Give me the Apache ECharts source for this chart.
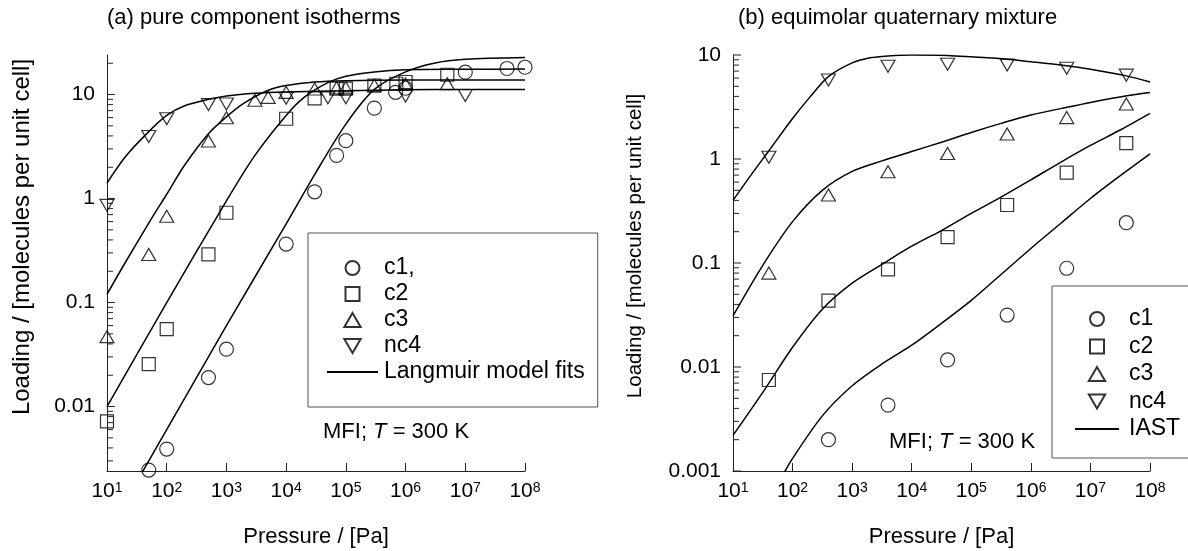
<!DOCTYPE html>
<html>
<head>
<meta charset="utf-8">
<title>MFI isotherms</title>
<script src="https://cdn.jsdelivr.net/npm/echarts@6/dist/echarts.min.js"></script>
<style>
html, body { margin: 0; padding: 0; background: #fff; }
#chart { width: 1188px; height: 551px; }
</style>
</head>
<body>
<div id="chart"></div>
<script>
/*
 * (a) pure component isotherms, (b) equimolar quaternary mixture
 * log-log, MFI at 300 K
 */

var FONT = '"Liberation Sans", Arial, sans-serif';
var INK = '#000';

// ---- (a) pure component : experimental points ----
var a_c1_P = [50, 100, 500, 1000, 1e4, 3e4, 7e4, 1e5, 3e5, 6.8e5, 1e6, 1e7, 5e7, 1e8];
var a_c1_q = [0.00245, 0.0039, 0.019, 0.0356, 0.365, 1.16, 2.6, 3.6, 7.4, 10.5, 11.5, 16.4, 17.8, 18.3];

var a_c2_P = [10, 50, 100, 500, 1000, 1e4, 3e4, 7e4, 1e5, 3e5, 7e5, 1e6, 5e6];
var a_c2_q = [0.0072, 0.0256, 0.0555, 0.29, 0.73, 5.85, 9.2, 11.4, 11.4, 12.2, 12.7, 13.2, 15.5];

var a_c3_P = [10, 50, 100, 500, 1000, 3000, 5000, 1e4, 3e4, 7e4, 1e5, 3e5, 1e6, 5e6];
var a_c3_q = [0.047, 0.29, 0.676, 3.57, 5.98, 8.8, 9.4, 10.5, 11.3, 11.6, 11.6, 12.3, 12.6, 12.7];

var a_nc4_P = [10, 50, 100, 500, 1000, 1e4, 5e4, 1e5, 1e6, 1e7];
var a_nc4_q = [0.86, 3.95, 5.85, 8.0, 8.1, 9.2, 9.3, 9.3, 9.7, 9.8];

// ---- (a) Langmuir model fits ----
var a_fit_c1_P = [30, 100, 1e3, 1e4, 3e4, 1e5, 3e5, 1e6, 3e6, 1e7, 1e8];
var a_fit_c1_q = [0.0018, 0.006, 0.06, 0.57, 1.7, 5.2, 11.2, 16.5, 20.0, 21.8, 22.7];

var a_fit_c2_P = [10, 100, 1e3, 3e3, 1e4, 2e4, 5e4, 1e5, 3e5, 1e6, 1e7, 1e8];
var a_fit_c2_q = [0.01, 0.1, 0.95, 2.6, 6.3, 9.4, 13.0, 15.0, 16.5, 17.3, 17.5, 17.6];

var a_fit_c3_P = [10, 20, 50, 100, 200, 500, 1e3, 2e3, 5e3, 1e4, 3e4, 1e5, 1e6, 1e8];
var a_fit_c3_q = [0.12, 0.24, 0.58, 1.1, 2.1, 4.2, 6.1, 8.3, 11.0, 12.2, 13.2, 13.6, 13.8, 13.8];

var a_fit_nc4_P = [10, 20, 50, 100, 200, 500, 1e3, 3e3, 1e4, 1e5, 1e6, 1e7, 1e8];
var a_fit_nc4_q = [1.41, 2.5, 4.4, 6.3, 7.8, 9.0, 9.7, 10.3, 10.6, 10.9, 11.1, 11.2, 11.2];

// ---- (b) equimolar quaternary mixture : experimental points ----
var b_P = [40, 400, 4000, 4e4, 4e5, 4e6, 4e7];
var b_c1_P = [400, 4000, 4e4, 4e5, 4e6, 4e7];
var b_c1_q = [0.002, 0.0043, 0.0117, 0.0316, 0.089, 0.244];
var b_c2_q = [0.0075, 0.0435, 0.087, 0.177, 0.361, 0.74, 1.42];
var b_c3_q = [0.08, 0.45, 0.755, 1.13, 1.74, 2.5, 3.38];
var b_nc4_q = [1.04, 5.75, 7.8, 8.14, 8.0, 7.45, 6.4];

// ---- (b) IAST (half-decade steps) ----
var b_fit_P = [10, 31.6, 100, 316, 1e3, 3.16e3, 1e4, 3.16e4, 1e5, 3.16e5, 1e6, 3.16e6, 1e7, 3.16e7, 1e8];
var b_fit_c3_q = [0.031, 0.095, 0.25, 0.50, 0.76, 0.96, 1.18, 1.45, 1.8, 2.2, 2.65, 3.05, 3.5, 3.95, 4.35];
var b_fit_c2_q = [0.0022, 0.0057, 0.0155, 0.036, 0.064, 0.097, 0.145, 0.205, 0.3, 0.43, 0.63, 0.93, 1.35, 1.9, 2.75];
var b_fit_c1_P = [60, 100, 316, 1e3, 3.16e3, 1e4, 3.16e4, 1e5, 3.16e5, 1e6, 3.16e6, 1e7, 3.16e7, 1e8];
var b_fit_c1_q = [0.00079, 0.00132, 0.00339, 0.0066, 0.0107, 0.0162, 0.0263, 0.0437, 0.0776, 0.138, 0.24, 0.417, 0.69, 1.12];
var b_fit_nc4_P = [10, 20, 40, 100, 200, 400, 1e3, 2e3, 4e3, 1e4, 4e4, 1e5, 4e5, 1e6, 4e6, 1e7, 4e7, 1e8];
var b_fit_nc4_q = [0.40, 0.70, 1.2, 2.45, 4.0, 6.2, 8.4, 9.4, 9.8, 10.0, 9.9, 9.6, 9.1, 8.6, 7.9, 7.3, 6.3, 5.5];

// axis ranges and tick values
var a_xRange = [10, 1e8];
var a_yRange = [0.0024, 24];
var b_xRange = [10, 1e8];
var b_yRange = [0.001, 10];
var a_yDecades = [0.001, 0.01, 0.1, 1, 10];
var b_yDecades = [0.001, 0.01, 0.1, 1];
var minorSteps = [2, 3, 4, 5, 6, 7, 8, 9];

var a_legend = ['c1,', 'c2', 'c3', 'nc4', 'Langmuir model fits'];
var b_legend = ['c1', 'c2', 'c3', 'nc4', 'IAST'];

// legend icons that keep their shape inside a wide icon box
var ICON_SQUARE = 'path://M0,0L13,0L13,13L0,13Z';
var ICON_UP = 'path://M7,0L14,12L0,12Z';
var ICON_DOWN = 'path://M0,0L14,0L7,12Z';


function zip(xs, ys) {
	var out = [];
	for (var i = 0; i < xs.length; i++) {
		out.push([xs[i], ys[i]]);
	}
	return out;
}

// y ticks (major + minor) inside the range, drawn at the left edge
function yTicks(decades, range, xMin) {
	var out = [];
	for (var i = 0; i < decades.length; i++) {
		var d = decades[i];
		if (d >= range[0] && d <= range[1]) out.push([xMin, d, 1]);
		for (var j = 0; j < minorSteps.length; j++) {
			var v = d * minorSteps[j];
			if (v > range[0] && v < range[1]) out.push([xMin, v, 0]);
		}
	}
	if (range[1] == 10) out.push([xMin, 10, 1]);
	return out;
}

function renderTick(params, api) {
	var p = api.coord([api.value(0), api.value(1)]);
	var len = api.value(2) ? 8 : 6;
	return {
		type: 'line',
		shape: { x1: p[0], y1: p[1], x2: p[0] + len, y2: p[1] },
		style: { stroke: '#222', lineWidth: 1 }
	};
}

function isDecade(v) {
	var e = Math.log(v) / Math.LN10;
	return Math.abs(e - Math.round(e)) < 1e-6;
}

function xAxisFor(idx, range) {
	return {
		type: 'log', gridIndex: idx, min: range[0], max: range[1],
		name: 'Pressure / [Pa]', nameLocation: 'middle', nameGap: 55,
		nameTextStyle: { fontFamily: FONT, fontSize: 22, color: INK },
		axisLine: { lineStyle: { color: '#222', width: 1 } },
		axisTick: { inside: true, length: 8, lineStyle: { color: '#222' } },
		splitLine: { show: false },
		axisLabel: {
			margin: 10, color: INK, fontFamily: FONT, fontSize: 21,
			formatter: function (v) {
				if (!isDecade(v)) return '';
				return '{b|10}{s|' + Math.round(Math.log(v) / Math.LN10) + '}';
			},
			rich: {
				b: { fontFamily: FONT, fontSize: 21, color: INK, verticalAlign: 'bottom' },
				s: { fontFamily: FONT, fontSize: 14, color: INK, verticalAlign: 'top' }
			}
		}
	};
}

function yAxisFor(idx, range) {
	return {
		type: 'log', gridIndex: idx, min: range[0], max: range[1],
		axisLine: { lineStyle: { color: '#222', width: 1 } },
		axisTick: { show: false },
		splitLine: { show: false },
		axisLabel: {
			margin: 12, color: INK, fontFamily: FONT, fontSize: 21,
			showMinLabel: true, showMaxLabel: true,
			formatter: function (v) {
				if (!isDecade(v)) return '';
				return String(+v.toPrecision(3));
			}
		}
	};
}

var HOLLOW = { color: 'rgba(0,0,0,0)', borderColor: INK, borderWidth: 1.2 };

function points(name, data, idx, symbol, size, rotate) {
	return {
		type: 'scatter', name: name, data: data,
		xAxisIndex: idx, yAxisIndex: idx,
		symbol: symbol, symbolSize: size, symbolRotate: rotate || 0,
		itemStyle: HOLLOW, z: 3, silent: true
	};
}

function curve(name, data, idx) {
	return {
		type: 'line', name: name, data: data,
		xAxisIndex: idx, yAxisIndex: idx,
		smooth: 0.3, symbol: 'none', showSymbol: false,
		lineStyle: { color: INK, width: 1.5 },
		// transparent so the legend shows a bare line
		itemStyle: { color: 'rgba(0,0,0,0)' },
		z: 2, silent: true
	};
}

function legendItems(names) {
	var icons = [null, ICON_SQUARE, ICON_UP, ICON_DOWN, null];
	var out = [];
	for (var i = 0; i < names.length; i++) {
		out.push(icons[i] ? { name: names[i], icon: icons[i] } : { name: names[i] });
	}
	return out;
}

function legendFor(names, left, top, itemWidth, itemGap, padding, textPad) {
	return {
		orient: 'vertical', left: left, top: top, data: legendItems(names),
		itemWidth: itemWidth, itemHeight: 14, itemGap: itemGap,
		padding: padding, borderColor: '#555', borderWidth: 1,
		selectedMode: false, backgroundColor: '#fff', symbolRotate: 0,
		textStyle: { fontFamily: FONT, fontSize: 23, color: INK, padding: [0, 0, 0, textPad] }
	};
}

function label(text, x, y, size, extra) {
	var el = {
		type: 'text', x: x, y: y, silent: true,
		style: { text: text, fontFamily: FONT, fontSize: size, fill: INK, verticalAlign: 'middle' }
	};
	for (var k in extra) el[k] = extra[k];
	return el;
}

function yName(x, y, size) {
	return {
		type: 'text', x: x, y: y, rotation: Math.PI / 2, silent: true,
		style: {
			text: 'Loading / [molecules per unit cell]', fontFamily: FONT, fontSize: size,
			fill: INK, align: 'center', verticalAlign: 'middle'
		}
	};
}

var series = [
	points('c1,', zip(a_c1_P, a_c1_q), 0, 'circle', 14),
	points('c2', zip(a_c2_P, a_c2_q), 0, 'rect', 13),
	points('c3', zip(a_c3_P, a_c3_q), 0, 'triangle', [14, 12]),
	points('nc4', zip(a_nc4_P, a_nc4_q), 0, 'triangle', [14, 12], 180),
	curve('Langmuir model fits', zip(a_fit_c1_P, a_fit_c1_q), 0),
	curve('Langmuir model fits', zip(a_fit_c2_P, a_fit_c2_q), 0),
	curve('Langmuir model fits', zip(a_fit_c3_P, a_fit_c3_q), 0),
	curve('Langmuir model fits', zip(a_fit_nc4_P, a_fit_nc4_q), 0),

	points('c1', zip(b_c1_P, b_c1_q), 1, 'circle', 14),
	points('c2', zip(b_P, b_c2_q), 1, 'rect', 13),
	points('c3', zip(b_P, b_c3_q), 1, 'triangle', [14, 12]),
	points('nc4', zip(b_P, b_nc4_q), 1, 'triangle', [14, 12], 180),
	curve('IAST', zip(b_fit_c1_P, b_fit_c1_q), 1),
	curve('IAST', zip(b_fit_P, b_fit_c2_q), 1),
	curve('IAST', zip(b_fit_P, b_fit_c3_q), 1),
	curve('IAST', zip(b_fit_nc4_P, b_fit_nc4_q), 1),

	// y ticks, major and 2..9 minor
	{ type: 'custom', xAxisIndex: 0, yAxisIndex: 0, data: yTicks(a_yDecades, a_yRange, a_xRange[0]),
	  renderItem: renderTick, clip: false, silent: true, z: 4 },
	{ type: 'custom', xAxisIndex: 1, yAxisIndex: 1, data: yTicks(b_yDecades, b_yRange, b_xRange[0]),
	  renderItem: renderTick, clip: false, silent: true, z: 4 }
];

var MFI_RICH = {
	n: { fontFamily: FONT, fontSize: 22, fill: INK },
	i: { fontFamily: FONT, fontSize: 22, fill: INK, fontStyle: 'italic' }
};
var MFI_TEXT = '{n|MFI; }{i|T}{n| = 300 K}';

var option = {
	backgroundColor: '#fff',
	animation: false,
	grid: [
		{ left: 107, top: 55, width: 418, height: 416, outerBoundsMode: 'none', containLabel: false },
		{ left: 733, top: 55, width: 417, height: 416, outerBoundsMode: 'none', containLabel: false }
	],
	xAxis: [xAxisFor(0, a_xRange), xAxisFor(1, b_xRange)],
	yAxis: [yAxisFor(0, a_yRange), yAxisFor(1, b_yRange)],
	legend: [
		legendFor(a_legend, 308, 233, 51, 3, [23.5, 13, 23.5, 18], 1),
		legendFor(b_legend, 1052, 286, 44, 4.5, [21.5, 22, 17.5, 22], 5)
	],
	graphic: [
		label('(a) pure component isotherms', 107, 18, 22),
		label('(b) equimolar quaternary mixture', 738, 18, 22),
		yName(22, 237, 24),
		yName(635, 246, 20.5),
		label('', 323, 432, 22, { style: { text: MFI_TEXT, rich: MFI_RICH, fontFamily: FONT, fontSize: 22, fill: INK, verticalAlign: 'middle' } }),
		label('', 889, 442, 22, { style: { text: MFI_TEXT, rich: MFI_RICH, fontFamily: FONT, fontSize: 22, fill: INK, verticalAlign: 'middle' } })
	],
	series: series
};

var chart = echarts.init(document.getElementById('chart'), null, { renderer: 'canvas' });
chart.setOption(option);
</script>
</body>
</html>
